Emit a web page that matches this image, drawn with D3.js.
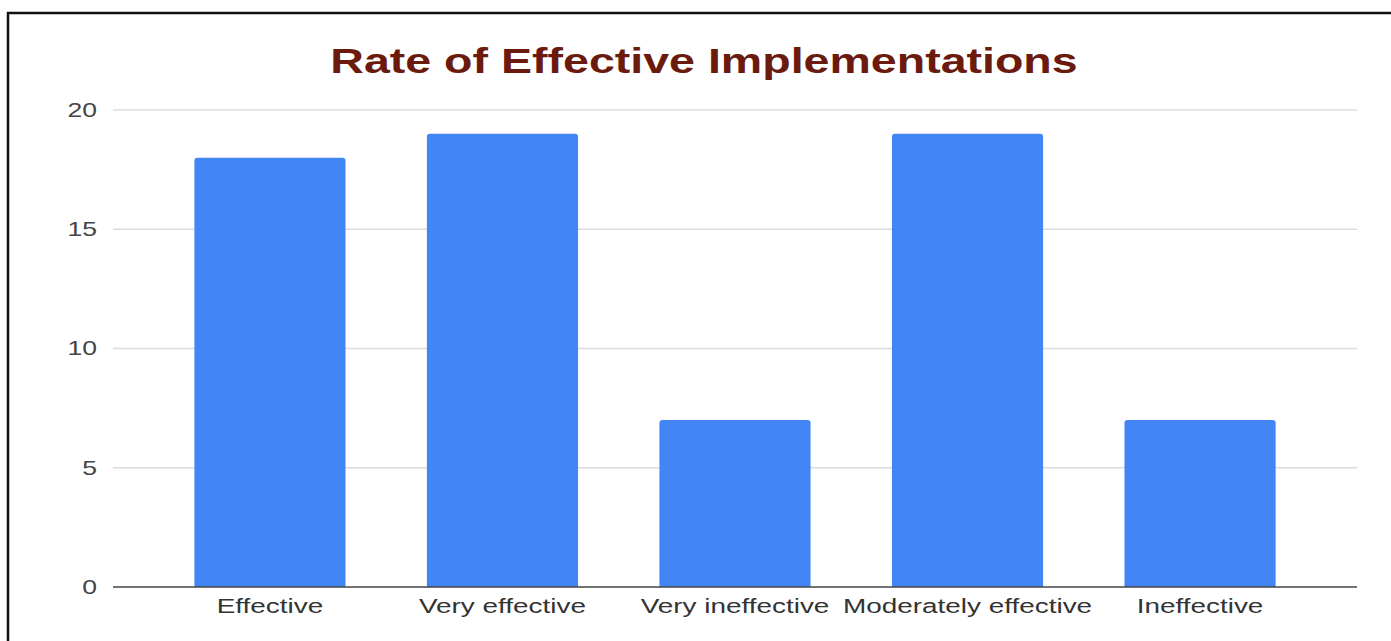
<!DOCTYPE html>
<html>
<head>
<meta charset="utf-8">
<script src="https://cdn.jsdelivr.net/npm/d3@7"></script>
<style>
  html, body { margin: 0; padding: 0; background: #fff; }
  svg { display: block; }
</style>
</head>
<body>
<svg id="chart" width="1391" height="641"></svg>
<script>
// Survey responses: how effective were the implementations
const categories = ["Effective", "Very effective", "Very ineffective", "Moderately effective", "Ineffective"];
const counts = [18, 19, 7, 19, 7];
const yTicks = [0, 5, 10, 15, 20];
const titleText = "Rate of Effective Implementations";

const W = 1391, H = 641;
const margin = { top: 110, right: 34, bottom: 54, left: 113 };
const textStretch = 1.33; // wide type used by the chart's labels

const svg = d3.select("#chart");

// frame lines
svg.append("line").attr("x1", 7).attr("x2", W).attr("y1", 13).attr("y2", 13)
  .attr("stroke", "#111").attr("stroke-width", 2.5);
svg.append("line").attr("x1", 8).attr("x2", 8).attr("y1", 12).attr("y2", H)
  .attr("stroke", "#111").attr("stroke-width", 2.5);

const x = d3.scaleBand()
  .domain(categories)
  .range([margin.left, W - margin.right])
  .paddingInner(0.35)
  .paddingOuter(0.35);

const y = d3.scaleLinear()
  .domain([0, 20])
  .range([H - margin.bottom, margin.top]);

// horizontal gridlines
svg.append("g")
  .selectAll("line")
  .data(yTicks.filter(t => t !== 0))
  .join("line")
  .attr("x1", margin.left).attr("x2", W - margin.right)
  .attr("y1", d => y(d)).attr("y2", d => y(d))
  .attr("stroke", "#dcdcdc").attr("stroke-width", 1.5);

// bars with rounded tops
const r = 3;
svg.append("g")
  .selectAll("path")
  .data(categories.map((c, i) => ({ c, v: counts[i] })))
  .join("path")
  .attr("fill", "#4285f4")
  .attr("d", d => {
    const x0 = x(d.c), x1 = x0 + x.bandwidth();
    const yt = y(d.v), yb = y(0);
    return `M${x0},${yb}V${yt + r}Q${x0},${yt} ${x0 + r},${yt}H${x1 - r}Q${x1},${yt} ${x1},${yt + r}V${yb}Z`;
  });

// baseline
svg.append("line")
  .attr("x1", margin.left).attr("x2", W - margin.right)
  .attr("y1", y(0)).attr("y2", y(0))
  .attr("stroke", "#444").attr("stroke-width", 1.6);

// y tick labels
svg.append("g")
  .selectAll("text")
  .data(yTicks)
  .join("text")
  .attr("transform", d => `translate(97,${y(d)}) scale(${textStretch},1)`)
  .attr("text-anchor", "end")
  .attr("dominant-baseline", "central")
  .attr("font-family", "Liberation Sans, Arial, sans-serif")
  .attr("font-size", 20)
  .attr("fill", "#444")
  .text(d => d);

// x category labels
svg.append("g")
  .selectAll("text")
  .data(categories)
  .join("text")
  .attr("transform", d => `translate(${x(d) + x.bandwidth() / 2},613) scale(${textStretch},1)`)
  .attr("text-anchor", "middle")
  .attr("font-family", "Liberation Sans, Arial, sans-serif")
  .attr("font-size", 21)
  .attr("fill", "#333")
  .text(d => d);

// title
svg.append("text")
  .attr("transform", `translate(704,73) scale(${textStretch},1)`)
  .attr("text-anchor", "middle")
  .attr("font-family", "Liberation Sans, Arial, sans-serif")
  .attr("font-weight", "bold")
  .attr("font-size", 35)
  .attr("fill", "#6b1a0e")
  .text(titleText);
</script>
</body>
</html>
